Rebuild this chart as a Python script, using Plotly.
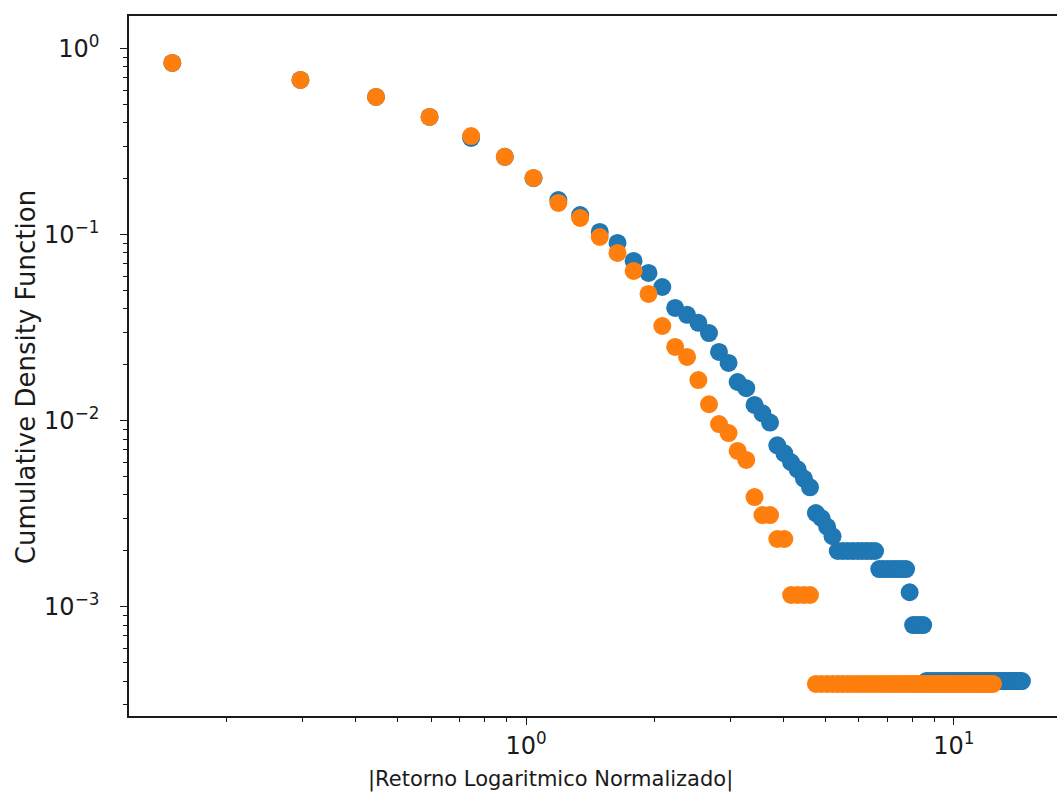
import plotly.graph_objects as go

# Bin centres of |normalised log return| (shared by both series)
abs_return = [
    0.149, 0.297, 0.446, 0.595, 0.744, 0.892, 1.041, 1.190, 1.338, 1.487,
    1.636, 1.784, 1.933, 2.082, 2.231, 2.379, 2.528, 2.677, 2.825, 2.974,
    3.123, 3.271, 3.420, 3.569, 3.718, 3.866, 4.015, 4.164, 4.312, 4.461,
    4.610, 4.758, 4.907, 5.056, 5.205, 5.353, 5.502, 5.651, 5.799, 5.948,
    6.097, 6.245, 6.394, 6.543, 6.692, 6.840, 6.989, 7.138, 7.286, 7.435,
    7.584, 7.732, 7.881, 8.030, 8.179, 8.327, 8.476, 8.625, 8.773, 8.922,
    9.071, 9.219, 9.368, 9.517, 9.666, 9.814, 9.963, 10.112, 10.260, 10.409,
    10.558, 10.706, 10.855, 11.004, 11.153, 11.301, 11.450, 11.599, 11.747, 11.896,
    12.045, 12.193, 12.342, 12.491, 12.640, 12.788, 12.937, 13.086, 13.234, 13.383,
    13.532, 13.680, 13.829, 13.978, 14.127, 14.275, 14.424,
]

# Series 1 (blue)
cdf_blue = [
    0.841, 0.681, 0.552, 0.431, 0.332, 0.263, 0.202, 0.154, 0.128, 0.1038,
    0.0906, 0.0725, 0.0625, 0.0525, 0.0405, 0.0372, 0.0337, 0.0297, 0.0235, 0.0205,
    0.0162, 0.0150, 0.0122, 0.0110, 0.0098, 0.0074, 0.0067, 0.0060, 0.0055, 0.0049,
    0.0044, 0.0032, 0.0030, 0.0027, 0.0024,
    0.0020, 0.0020, 0.0020, 0.0020, 0.0020, 0.0020, 0.0020, 0.0020, 0.0020,
    0.0016, 0.0016, 0.0016, 0.0016, 0.0016, 0.0016, 0.0016, 0.0016,
    0.0012,
    0.0008, 0.0008, 0.0008, 0.0008,
    0.0004, 0.0004, 0.0004, 0.0004, 0.0004, 0.0004, 0.0004, 0.0004, 0.0004, 0.0004,
    0.0004, 0.0004, 0.0004, 0.0004, 0.0004, 0.0004, 0.0004, 0.0004, 0.0004, 0.0004,
    0.0004, 0.0004, 0.0004, 0.0004, 0.0004, 0.0004, 0.0004, 0.0004, 0.0004, 0.0004,
    0.0004, 0.0004, 0.0004, 0.0004, 0.0004, 0.0004, 0.0004, 0.0004, 0.0004, 0.0004,
]

# Series 2 (orange)
cdf_orange = [
    0.841, 0.681, 0.552, 0.431, 0.340, 0.263, 0.2025, 0.1486, 0.1234, 0.0975,
    0.080, 0.0641, 0.0482, 0.0324, 0.0250, 0.0221, 0.0166, 0.0123, 0.00963, 0.00861,
    0.0069, 0.00617, 0.0039, 0.00312, 0.00312, 0.00232, 0.00232,
    0.00116, 0.00116, 0.00116, 0.00116,
    0.000386, 0.000386, 0.000386, 0.000386, 0.000386, 0.000386, 0.000386, 0.000386,
    0.000386, 0.000386, 0.000386, 0.000386, 0.000386, 0.000386, 0.000386, 0.000386,
    0.000386, 0.000386, 0.000386, 0.000386, 0.000386, 0.000386, 0.000386, 0.000386,
    0.000386, 0.000386, 0.000386, 0.000386, 0.000386, 0.000386, 0.000386, 0.000386,
    0.000386, 0.000386, 0.000386, 0.000386, 0.000386, 0.000386, 0.000386, 0.000386,
    0.000386, 0.000386, 0.000386, 0.000386, 0.000386, 0.000386, 0.000386, 0.000386,
    0.000386, 0.000386, 0.000386, 0.000386,
]

x_major = [1, 10]
x_major_text = ["10<sup>0</sup>", "10<sup>1</sup>"]
y_major = [1, 0.1, 0.01, 0.001]
y_major_text = ["10<sup>0</sup>", "10<sup>\u22121</sup>", "10<sup>\u22122</sup>", "10<sup>\u22123</sup>"]

x_minor = [m * d for d in (0.1, 1) for m in range(2, 10)]
y_minor = [m * d for d in (0.0001, 0.001, 0.01, 0.1) for m in range(2, 10)]

x_title = "|Retorno Logaritmico Normalizado|"
y_title = "Cumulative Density Function"

FONT = "DejaVu Sans"
INK = "#1a1a1a"

fig = go.Figure()
fig.add_trace(go.Scatter(
    x=abs_return[:len(cdf_blue)], y=cdf_blue, mode="markers",
    marker=dict(color="#1f77b4", size=18, line=dict(width=0)),
    showlegend=False,
))
fig.add_trace(go.Scatter(
    x=abs_return[:len(cdf_orange)], y=cdf_orange, mode="markers",
    marker=dict(color="#ff7f0e", size=18, line=dict(width=0)),
    showlegend=False,
))

fig.update_layout(
    width=1057, height=796,
    margin=dict(l=129, r=0, t=16, b=80),
    paper_bgcolor="white", plot_bgcolor="white",
    font=dict(family=FONT, color=INK),
    annotations=[
        dict(text=x_title, xref="paper", yref="paper", x=0.454, y=-0.0914,
             xanchor="center", yanchor="middle", showarrow=False,
             font=dict(size=21, family=FONT, color=INK)),
        dict(text=y_title, xref="paper", yref="paper", x=-0.111, y=0.484,
             xanchor="center", yanchor="middle", textangle=-90, showarrow=False,
             font=dict(size=26, family=FONT, color=INK)),
    ],
)
fig.update_xaxes(
    type="log", range=[-0.928, 1.241],
    showgrid=False, zeroline=False,
    showline=True, linecolor=INK, linewidth=1.6, mirror=True,
    tickmode="array", tickvals=x_major, ticktext=x_major_text,
    ticks="outside", ticklen=7, tickwidth=1.4, tickcolor=INK,
    tickfont=dict(size=24, family=FONT, color=INK),
    minor=dict(tickmode="array", tickvals=x_minor, ticks="outside", ticklen=4, tickwidth=1.1, tickcolor=INK, showgrid=False),
)
fig.update_yaxes(
    type="log", range=[-3.586, 0.177],
    showgrid=False, zeroline=False,
    showline=True, linecolor=INK, linewidth=1.6, mirror=False,
    tickmode="array", tickvals=y_major, ticktext=y_major_text,
    ticks="outside", ticklen=7, tickwidth=1.4, tickcolor=INK,
    tickfont=dict(size=24, family=FONT, color=INK),
    ticklabelstandoff=16,
    minor=dict(tickmode="array", tickvals=y_minor, ticks="outside", ticklen=4, tickwidth=1.1, tickcolor=INK, showgrid=False),
)

fig.write_html(
    "out.html",
    config={"displayModeBar": False},
    post_script="document.body.style.margin='0';document.body.style.overflow='hidden';",
)
